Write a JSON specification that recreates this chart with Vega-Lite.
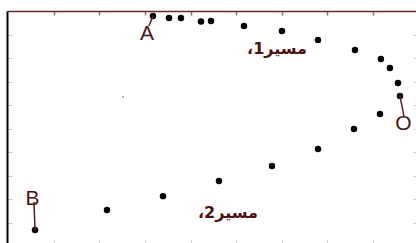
{
  "$schema": "https://vega.github.io/schema/vega-lite/v6.json",
  "width": 409,
  "height": 232,
  "autosize": {"type": "none"},
  "padding": {"left": 7, "top": 11, "right": 0, "bottom": 0},
  "background": "white",
  "config": {"view": {"stroke": null}},
  "resolve": {"axis": {"x": "independent", "y": "independent"}},
  "layer": [
    {
      "data": {"values": [
        {"x": 3.175, "y": 9.79}, {"x": 3.527, "y": 9.70}, {"x": 3.79, "y": 9.70},
        {"x": 4.229, "y": 9.55}, {"x": 4.449, "y": 9.58}, {"x": 5.173, "y": 9.36},
        {"x": 6.007, "y": 9.15}, {"x": 6.798, "y": 8.77}, {"x": 7.61, "y": 8.34},
        {"x": 8.18, "y": 7.96}, {"x": 8.378, "y": 7.58}, {"x": 8.554, "y": 6.94},
        {"x": 8.598, "y": 6.39}, {"x": 8.159, "y": 5.63}, {"x": 7.588, "y": 4.99},
        {"x": 6.798, "y": 4.14}, {"x": 5.788, "y": 3.42}, {"x": 4.624, "y": 2.78},
        {"x": 3.395, "y": 2.14}, {"x": 2.165, "y": 1.55}, {"x": 0.585, "y": 0.70}
      ]},
      "mark": {"type": "circle", "size": 42, "color": "black", "opacity": 1},
      "encoding": {
        "x": {"field": "x", "type": "quantitative", "scale": {"domain": [-0.03, 8.95], "nice": false, "zero": false},
          "axis": {"orient": "top", "values": [1,2,3,4,5,6,7,8], "labels": false, "title": null, "grid": false,
            "domainColor": "#6b2a2a", "domainWidth": 1.5, "tickColor": "#a06a6a", "tickSize": -4, "tickWidth": 1.5, "tickOffset": 0}},
        "y": {"field": "y", "type": "quantitative", "scale": {"domain": [0.15, 10], "nice": false, "zero": false},
          "axis": {"orient": "left", "values": [1,2,3,4,5,6,7,8,9], "labels": false, "title": null, "grid": false,
            "domainColor": "black", "domainWidth": 2, "tickColor": "#c8c8c8", "tickSize": -5, "tickWidth": 1}}
      }
    },
    {
      "data": {"values": [
        {"x": 3.175, "y": 9.79, "x2": 3.087, "y2": 9.36},
        {"x": 0.563, "y": 1.89, "x2": 0.585, "y2": 0.70},
        {"x": 8.598, "y": 6.39, "x2": 8.686, "y2": 5.54}
      ]},
      "mark": {"type": "rule", "color": "#5a2020", "strokeWidth": 1.5},
      "encoding": {
        "x": {"field": "x", "type": "quantitative",
          "axis": {"orient": "bottom", "values": [1,2,3,4,5,6,7,8], "labels": false, "title": null, "grid": false,
            "domain": false, "tickColor": "#d0d0d0", "tickSize": -3, "tickWidth": 1}},
        "y": {"field": "y", "type": "quantitative",
          "axis": {"orient": "right", "values": [1,2,3,4,5,6,7,8,9], "labels": false, "title": null, "grid": false,
            "domain": false, "tickColor": "#d0d0d0", "tickSize": -3, "tickWidth": 1}},
        "x2": {"field": "x2"},
        "y2": {"field": "y2"}
      }
    },
    {
      "data": {"values": [{"x": 2.517, "y": 6.35}]},
      "mark": {"type": "circle", "size": 3, "color": "#888888", "opacity": 1},
      "encoding": {
        "x": {"field": "x", "type": "quantitative", "axis": null},
        "y": {"field": "y", "type": "quantitative", "axis": null}
      }
    },
    {
      "data": {"values": [
        {"label": "A", "x": 3.044, "y": 9.02},
        {"label": "B", "x": 0.53, "y": 2.0},
        {"label": "O", "x": 8.675, "y": 5.22}
      ]},
      "mark": {"type": "text", "font": "Liberation Sans", "fontSize": 21, "fontWeight": 500, "color": "#4d1212", "align": "center", "baseline": "middle"},
      "encoding": {
        "x": {"field": "x", "type": "quantitative", "axis": null},
        "y": {"field": "y", "type": "quantitative", "axis": null},
        "text": {"field": "label"}
      }
    },
    {
      "data": {"values": [
        {"label": "مسیر1،\u200f", "x": 5.898, "y": 8.39},
        {"label": "مسیر2،\u200f", "x": 4.82, "y": 1.44}
      ]},
      "mark": {"type": "text", "font": "DejaVu Sans", "fontSize": 16, "fontWeight": "bold", "color": "#4d1212", "align": "center", "baseline": "middle"},
      "encoding": {
        "x": {"field": "x", "type": "quantitative", "axis": null},
        "y": {"field": "y", "type": "quantitative", "axis": null},
        "text": {"field": "label"}
      }
    }
  ]
}
